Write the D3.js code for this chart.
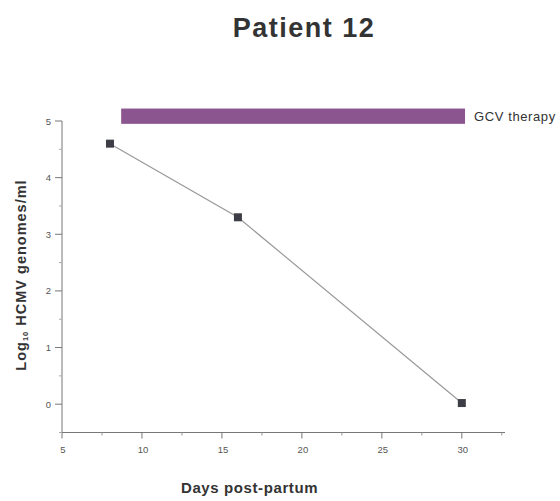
<!DOCTYPE html>
<html><head><meta charset="utf-8">
<script src="https://cdn.jsdelivr.net/npm/d3@7"></script>
<style>body{margin:0;background:#fff}svg{display:block}</style>
</head><body>
<svg id="c" width="560" height="501"></svg>
<script>
const days = [8, 16, 30];
const logLoad = [4.6, 3.3, 0.02];
const xTicks = [5, 10, 15, 20, 25, 30];
const yTicks = [0, 1, 2, 3, 4, 5];
const therapy = [8.7, 30.2];
const therapyBand = [4.95, 5.22];
const therapyLabel = "GCV therapy";

const svg = d3.select("#c");
const x = d3.scaleLinear().domain([5, 32.7]).range([62, 505]);
const y = d3.scaleLinear().domain([-0.5, 5]).range([432.5, 121]);
const ink = "#555";
const ff = "Liberation Sans, Arial, sans-serif";

svg.append("text").attr("x", 304).attr("y", 37).attr("text-anchor", "middle")
  .attr("font-family", ff).attr("font-weight", "bold").attr("letter-spacing", 1.5)
  .attr("font-size", 27).attr("fill", "#333").text("Patient 12");

// axes
const gx = svg.append("g").attr("transform", `translate(0,${y(-0.5)})`);
gx.append("line").attr("x1", x(5)).attr("x2", x(32.7)).attr("stroke", "#777");
gx.selectAll(".mj").data(xTicks).join("line").attr("x1", d => x(d)).attr("x2", d => x(d))
  .attr("y1", 0).attr("y2", 6).attr("stroke", "#777");
gx.selectAll(".mn").data(d3.range(7.5, 32.6, 5)).join("line").attr("x1", d => x(d)).attr("x2", d => x(d))
  .attr("y1", 0).attr("y2", 3).attr("stroke", "#999");
gx.selectAll("text").data(xTicks).join("text").attr("x", d => x(d) + 1).attr("y", 20)
  .attr("text-anchor", "middle").attr("font-family", ff)
  .attr("font-size", 9.5).attr("fill", ink).text(d => d);

const gy = svg.append("g").attr("transform", `translate(${x(5)},0)`);
gy.append("line").attr("y1", y(-0.5)).attr("y2", y(5)).attr("stroke", "#777");
gy.selectAll(".mj").data(yTicks).join("line").attr("y1", d => y(d)).attr("y2", d => y(d))
  .attr("x1", -7).attr("x2", 0).attr("stroke", "#777");
gy.selectAll(".mn").data(d3.range(-0.5, 4.6, 1)).join("line").attr("y1", d => y(d)).attr("y2", d => y(d))
  .attr("x1", -3).attr("x2", 0).attr("stroke", "#aaa");
gy.selectAll("text").data(yTicks).join("text").attr("x", -11).attr("y", d => y(d) + 3.5)
  .attr("text-anchor", "end").attr("font-family", ff)
  .attr("font-size", 9.5).attr("fill", ink).text(d => d);

// therapy bar
svg.append("rect").attr("x", x(therapy[0])).attr("width", x(therapy[1]) - x(therapy[0]))
  .attr("y", y(therapyBand[1])).attr("height", y(therapyBand[0]) - y(therapyBand[1]))
  .attr("fill", "#8b5590");
svg.append("text").attr("x", x(therapy[1]) + 9).attr("y", y(5.085) + 5)
  .attr("font-family", ff).attr("font-size", 13).attr("letter-spacing", 0.6)
  .attr("fill", "#333").text(therapyLabel);

// data
const pts = days.map((d, i) => [d, logLoad[i]]);
svg.append("path").datum(pts).attr("fill", "none").attr("stroke", "#999").attr("stroke-width", 1.2)
  .attr("d", d3.line().x(d => x(d[0])).y(d => y(d[1])));
svg.selectAll(".pt").data(pts).join("rect").attr("x", d => x(d[0]) - 4).attr("y", d => y(d[1]) - 4)
  .attr("width", 8).attr("height", 8).attr("fill", "#3d3d45");

// axis titles
svg.append("text").attr("x", 181).attr("y", 493).attr("text-anchor", "start")
  .attr("font-family", ff).attr("font-weight", "bold").attr("letter-spacing", 0.6)
  .attr("font-size", 15).attr("fill", "#333").text("Days post-partum");
const yl = svg.append("text").attr("transform", `translate(26,275) rotate(-90)`)
  .attr("text-anchor", "middle").attr("font-family", ff).attr("letter-spacing", 1)
  .attr("font-weight", "bold").attr("font-size", 14.5).attr("fill", "#333");
yl.append("tspan").text("Log");
yl.append("tspan").attr("font-size", 7.5).attr("dy", 2).text("10");
yl.append("tspan").attr("dy", -2).text(" HCMV genomes/ml");
</script>
</body></html>
